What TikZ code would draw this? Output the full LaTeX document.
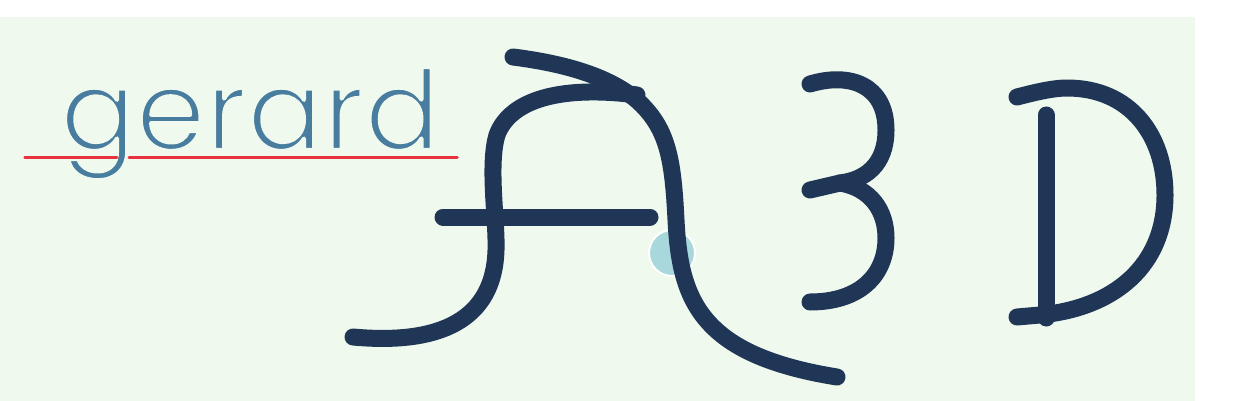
\documentclass[tikz,border=0pt]{standalone}
\usepackage{fontspec}
\newfontfamily\gerardfont{Poppins}
\definecolor{bgGreen}{HTML}{F0F9EE}
\definecolor{navy}{HTML}{1F3657}
\definecolor{steel}{HTML}{487DA0}
\definecolor{redline}{HTML}{E8333F}
\definecolor{teal}{HTML}{A8D8DC}
\newcommand\thinon{\special{pdf:literal direct 2 Tr 4.2 w 1 j 0.941 0.976 0.933 RG}}
\newcommand\thinoff{\special{pdf:literal direct 0 Tr}}
\tikzset{
  pen/.style={draw=navy, line width=17pt, line cap=round, line join=round},
  underline/.style={draw=redline, line width=3pt},
}
\begin{document}
\begin{tikzpicture}[x=1pt,y=-1pt]
\useasboundingbox (0,0) rectangle (1241,401);
\fill[white] (0,0) rectangle (1241,401);
\fill[bgGreen] (0,17) rectangle (1195,401);
% red underline (under the text)
\coordinate (r1) at (25,157);
\coordinate (r2) at (117,157);
\coordinate (r3) at (129,157);
\coordinate (r4) at (457,157);
\draw[underline, line cap=round] (r1) -- (r4);
% text
\node[anchor=base west, inner sep=0pt, text=steel, font=\gerardfont\fontsize{112}{112}\selectfont] (gerard) at (60,150) {\thinon gerard\thinoff};
% red underline restored outside the g stem
\draw[underline, line cap=round] (r1) -- (r2);
\draw[underline, line cap=round] (r3) -- (r4);
% teal dot (behind stroke)
\node[circle, fill=teal, draw=white, line width=2pt, minimum size=46pt, inner sep=0pt] (dot) at (672,253) {};
% A : right stroke
\coordinate (a1) at (513,57);
\coordinate (a2) at (640,103);
\coordinate (a3) at (676,220);
\coordinate (a4) at (837,377);
\draw[pen] (a1) .. controls (560,63) and (610,75) .. (a2)
  .. controls (668,130) and (673,160) .. (a3)
  .. controls (680,300) and (700,355) .. (a4);
% A : left S stroke
\coordinate (b1) at (637,95);
\coordinate (b2) at (497,135);
\coordinate (b3) at (496,250);
\coordinate (b4) at (353,337);
\draw[pen] (b1) .. controls (560,85) and (510,100) .. (b2)
  .. controls (488,165) and (497,220) .. (b3)
  .. controls (494,320) and (440,345) .. (b4);
% A : bar
\coordinate (h1) at (443,217);
\coordinate (h2) at (650,217);
\draw[pen] (h1) -- (h2);
% 3
\coordinate (t1) at (810,84);
\coordinate (t2) at (886,130);
\coordinate (t3) at (840,183);
\coordinate (t4) at (810,190);
\coordinate (t5) at (886,238);
\coordinate (t6) at (810,302);
\draw[pen] (t1) .. controls (850,72) and (886,85) .. (t2)
  .. controls (886,165) and (865,180) .. (t3) -- (t4);
\draw[pen] (t3) .. controls (870,188) and (886,210) .. (t5)
  .. controls (886,275) and (860,302) .. (t6);
% D
\coordinate (d1) at (1017,97);
\coordinate (d2) at (1067,88);
\coordinate (d3) at (1165,195);
\coordinate (d4) at (1040,315);
\coordinate (d5) at (1017,317);
\draw[pen] (d1) .. controls (1040,91) and (1055,88) .. (d2)
  .. controls (1130,88) and (1165,135) .. (d3)
  .. controls (1165,265) and (1115,308) .. (d4) -- (d5);
\coordinate (s1) at (1046,115);
\coordinate (s2) at (1046,318);
\draw[pen] (s1) -- (s2);
\end{tikzpicture}
\end{document}
